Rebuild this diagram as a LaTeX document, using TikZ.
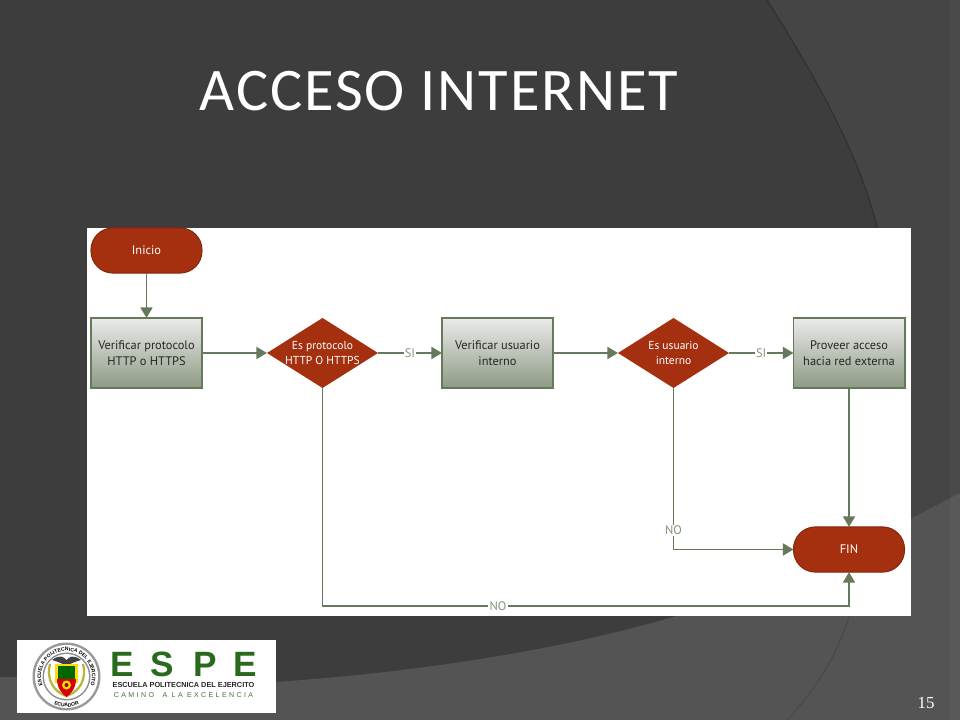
\documentclass[tikz,border=0pt]{standalone}
\usepackage{fontspec}
\setmainfont{Liberation Sans}
\newfontfamily\titlefont[LetterSpace=3.2]{Carlito}
\newfontfamily\numfont{Liberation Serif}
\newfontfamily\flowfont{PT Sans}
\newfontfamily\motofont[LetterSpace=34]{Liberation Sans}
\usetikzlibrary{shapes.geometric,arrows.meta,decorations.text}
\definecolor{redbox}{HTML}{A5300F}
\definecolor{edgegreen}{HTML}{66795A}
\definecolor{labgreen}{HTML}{84957A}
\definecolor{logogreen}{HTML}{2A6A1E}
\tikzset{
	term/.style={draw=redbox!80!black,fill=redbox,rectangle,rounded corners=0.55cm,minimum width=2.775cm,minimum height=1.13cm,text=white,font=\flowfont\fontsize{8.8}{11.2}\selectfont,inner sep=0,outer sep=0,line width=0.7pt},
	procbox/.style={draw=edgegreen,top color=black!8,middle color=black!18,bottom color=edgegreen!75,rectangle,minimum width=2.775cm,minimum height=1.75cm,align=center,text=black!85,font=\flowfont\fontsize{8.8}{11.2}\selectfont,inner sep=0,outer sep=0,line width=1.4pt},
	decide/.style={fill=redbox,diamond,aspect=1.586,minimum width=2.775cm,minimum height=1.75cm,align=center,text=white,font=\flowfont\fontsize{8.2}{11.2}\selectfont,inner sep=-6pt,outer sep=0},
	flow/.style={draw=edgegreen,line width=1.3pt,-{Triangle[length=7.5pt,width=8.5pt]}},
	lab/.style={fill=white,text=labgreen,font=\flowfont\fontsize{8.8}{10}\selectfont,inner sep=0.8pt},
	ringtext/.style={postaction={decorate,decoration={text along path,text align=center,text={|\fontsize{3.6}{4}\selectfont\bfseries|#1}}}},
	espe/.style={font=\bfseries\fontsize{25}{26}\selectfont,text=logogreen,inner sep=0}
}
\begin{document}
\begin{tikzpicture}[x=0.025cm,y=-0.025cm]
	\useasboundingbox (0,0) rectangle (960,720);
	% slide background
	\fill[black!76] (0,0) rectangle (960,720);
	\fill[black!73] (767,0) .. controls (830,100) and (865,170) .. (880,240) .. controls (900,400) and (880,560) .. (787,720) -- (960,720) -- (960,0) -- cycle;
	\draw[black!80,line width=1pt] (767,0) .. controls (830,100) and (865,170) .. (880,240);
	\fill[black!67] (0,677) .. controls (90,677) and (180,695) .. (275,682) .. controls (420,672) and (560,650) .. (673,617) .. controls (780,585) and (880,535) .. (960,493) -- (960,720) -- (0,720) -- cycle;
	\draw[black!71,line width=0.8pt] (849,617) .. controls (835,660) and (815,690) .. (787,720);
	\fill[white,opacity=0.03] (950,0) rectangle (960,720);
	% title
	\node (title) at (439,91) {\titlefont\fontsize{43}{46}\selectfont\color{white}ACCESO INTERNET};
	% flowchart panel
	\fill[white] (87,228) rectangle (911,616);
	\node[term] (ini) at (146.5,250.5) {Inicio};
	\node[procbox] (v1) at (146.5,353) {Verificar protocolo\\HTTP o HTTPS};
	\node[decide] (d1) at (322.5,353) {Es protocolo\\HTTP O HTTPS};
	\node[procbox] (v2) at (497.5,353) {Verificar usuario\\interno};
	\node[decide] (d2) at (673.5,353) {Es usuario\\interno};
	\node[procbox] (v3) at (849,353) {Proveer acceso\\hacia red externa};
	\node[term] (fin) at (849,549.5) {FIN};
	\coordinate (bot) at (498,606);
	\draw[flow] (ini) -- (v1);
	\draw[flow] (v1) -- (d1);
	\draw[flow] (d1) -- node[lab]{SI} (v2);
	\draw[flow] (v2) -- (d2);
	\draw[flow] (d2) -- node[lab]{SI} (v3);
	\draw[flow] (v3) -- (fin);
	\draw[flow] (d2.south) |- node[lab,pos=0.44]{NO} (fin.west);
	\draw[flow] (d1.south) |- (bot) node[lab]{NO} -| (fin.south);
	% logo
	\fill[white] (17,640) rectangle (276,713);
	\coordinate (seal) at (66.5,676.5);
	\fill[black!40] (seal) circle (34);
	\fill[white] (seal) circle (31.5);
	\fill[black!45] (seal) circle (24);
	\fill[white] (seal) circle (22.5);
	\path[ringtext={ESCUELA POLITECNICA DEL EJERCITO}] (seal) ++(140:25.5) arc (140:400:25.5);
	\path[ringtext={ECUADOR}] (seal) ++(125:30.5) arc (125:55:30.5);
	\draw[yellow!70!black,line width=1.6pt] (50,664) .. controls (46,680) and (54,692) .. (66.5,696) .. controls (79,692) and (87,680) .. (83,664);
	\fill[black!75] (52,660) .. controls (60,654) and (64,657) .. (66.5,660) .. controls (69,657) and (73,654) .. (81,660) .. controls (74,662) and (70,664) .. (66.5,666) .. controls (63,664) and (59,662) .. (52,660) -- cycle;
	\fill[yellow!80!orange] (55,664) rectangle (78,683);
	\fill[green!40!black] (58,666) rectangle (75,679);
	\fill[red!85!black] (57,679) -- (76,679) .. controls (76,688) and (71,694) .. (66.5,697) .. controls (62,694) and (57,688) .. (57,679) -- cycle;
	\fill[yellow!80!orange] (66.5,685) circle (4.5);
	\fill[red!60!black] (66.5,685) circle (2);
	\node[espe] (e1) at (122.5,664.5) {E};
	\node[espe] (s1) at (162.5,664.5) {S};
	\node[espe] (p1) at (205,664.5) {P};
	\node[espe] (e2) at (245.5,664.5) {E};
	\node[font=\bfseries\fontsize{5.2}{6}\selectfont,text=black!85,inner sep=0] (esc) at (183.5,684.5) {ESCUELA POLITECNICA DEL EJERCITO};
	\node[text=logogreen!70!gray,inner sep=0] (moto) at (183.5,695.5) {\motofont\fontsize{5}{6}\selectfont CAMINO\ \ A LA EXCELENCIA};
	% slide number
	\node (num) at (926,703) {\numfont\fontsize{12}{14}\selectfont\color{white}15};
\end{tikzpicture}
\end{document}
